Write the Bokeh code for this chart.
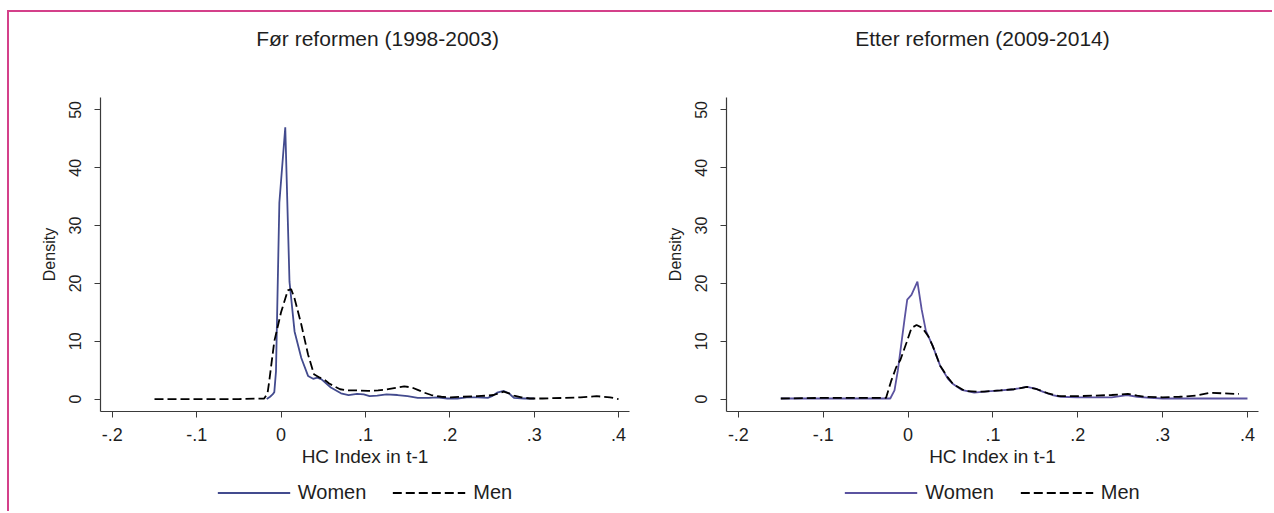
from bokeh.plotting import figure
from bokeh.layouts import row, column
from bokeh.models import Range1d, Legend, LegendItem, FixedTicker, CustomJSTickFormatter, Spacer
from bokeh.core.properties import value
from bokeh.embed import file_html
from bokeh.resources import INLINE

# ---------------- data ----------------
x_ticks = [-0.2, -0.1, 0.0, 0.1, 0.2, 0.3, 0.4]
x_tick_labels = ["-.2", "-.1", "0", ".1", ".2", ".3", ".4"]
y_ticks = [0, 10, 20, 30, 40, 50]
y_tick_labels = ["0", "10", "20", "30", "40", "50"]

titles = ["Før reformen (1998-2003)", "Etter reformen (2009-2014)"]
x_axis_title = "HC Index in t-1"
y_axis_title = "Density"
series_names = ["Women", "Men"]

before_women_x = [-0.017, -0.013, -0.010, -0.008, -0.006, -0.002, 0.005, 0.010, 0.016, 0.024,
                  0.032, 0.038, 0.043, 0.048, 0.059, 0.071, 0.080, 0.090, 0.098, 0.105,
                  0.114, 0.125, 0.138, 0.150, 0.162, 0.175, 0.185, 0.197, 0.209, 0.220,
                  0.233, 0.245, 0.250, 0.256, 0.264, 0.270, 0.276, 0.288, 0.300]
before_women_y = [0.0, 0.4, 0.8, 1.2, 4.8, 34.0, 47.0, 20.3, 11.7, 7.1,
                  4.0, 3.5, 3.7, 3.4, 2.0, 1.0, 0.7, 0.9, 0.8, 0.5,
                  0.6, 0.8, 0.7, 0.5, 0.2, 0.2, 0.3, 0.1, 0.1, 0.3,
                  0.3, 0.2, 0.5, 1.1, 1.4, 1.0, 0.2, 0.1, 0.1]

before_men_x = [-0.150, -0.100, -0.050, -0.020, -0.016, -0.014, -0.008, 0.000, 0.008, 0.012,
                0.016, 0.024, 0.032, 0.039, 0.046, 0.051, 0.057, 0.063, 0.070, 0.079,
                0.090, 0.103, 0.115, 0.122, 0.134, 0.146, 0.155, 0.162, 0.170, 0.178,
                0.190, 0.201, 0.215, 0.233, 0.245, 0.252, 0.258, 0.264, 0.270, 0.276,
                0.285, 0.295, 0.310, 0.335, 0.355, 0.374, 0.390, 0.400]
before_men_y = [0.0, 0.0, 0.0, 0.1, 1.0, 3.1, 10.0, 15.0, 18.8, 19.0,
                17.4, 12.9, 7.7, 4.3, 3.7, 3.4, 2.7, 2.2, 1.7, 1.5,
                1.5, 1.4, 1.5, 1.6, 1.9, 2.2, 2.0, 1.6, 1.1, 0.7,
                0.4, 0.3, 0.4, 0.5, 0.6, 0.7, 1.0, 1.3, 1.0, 0.6,
                0.3, 0.1, 0.1, 0.2, 0.3, 0.5, 0.3, 0.0]

after_women_x = [-0.150, -0.100, -0.050, -0.021, -0.016, -0.012, -0.004, -0.001, 0.004, 0.011,
                 0.016, 0.021, 0.029, 0.038, 0.047, 0.053, 0.063, 0.078, 0.090, 0.109,
                 0.125, 0.140, 0.150, 0.160, 0.170, 0.180, 0.200, 0.220, 0.240, 0.258,
                 0.270, 0.285, 0.300, 0.320, 0.350, 0.400]
after_women_y = [0.1, 0.1, 0.1, 0.1, 1.5, 5.0, 14.0, 17.2, 18.0, 20.3,
                 15.5, 11.8, 9.2, 5.7, 3.5, 2.6, 1.6, 1.1, 1.3, 1.5,
                 1.7, 2.1, 1.8, 1.2, 0.7, 0.4, 0.3, 0.3, 0.3, 0.7,
                 0.4, 0.2, 0.1, 0.1, 0.1, 0.1]

after_men_x = [-0.150, -0.100, -0.050, -0.026, -0.020, -0.014, -0.009, -0.002, 0.004, 0.010,
               0.017, 0.024, 0.029, 0.038, 0.047, 0.053, 0.067, 0.081, 0.090, 0.109,
               0.125, 0.140, 0.152, 0.165, 0.178, 0.200, 0.220, 0.240, 0.259, 0.270,
               0.278, 0.300, 0.320, 0.340, 0.356, 0.370, 0.385, 0.390]
after_men_y = [0.1, 0.2, 0.2, 0.2, 3.1, 5.5, 6.8, 9.7, 12.3, 12.8,
               12.3, 10.8, 9.2, 5.7, 3.7, 2.6, 1.4, 1.3, 1.3, 1.5,
               1.7, 2.1, 1.7, 1.0, 0.5, 0.5, 0.6, 0.7, 0.9, 0.6,
               0.4, 0.3, 0.4, 0.6, 1.1, 1.0, 0.9, 0.9]

FONT = "Liberation Sans"
TEXT = "#1e1e1e"
AXIS = "#3a3a3a"
MEN_DASH = "9 4"


def tick_formatter(tvals, tlabels):
    return CustomJSTickFormatter(args=dict(tvals=tvals, tlabels=tlabels), code="""
        for (let i = 0; i < tvals.length; i++) {
            if (Math.abs(tick - tvals[i]) < 1e-9) { return tlabels[i]; }
        }
        return '';
    """)


def bare_figure(width, height, x_range, y_range, mbl=0, mbr=0):
    f = figure(width=width, height=height, x_range=x_range, y_range=y_range,
               output_backend="svg", toolbar_location=None,
               x_axis_type=None, y_axis_type=None,
               min_border_left=mbl, min_border_right=mbr,
               min_border_top=0, min_border_bottom=0,
               background_fill_color="white", border_fill_color="white",
               outline_line_color=None)
    f.grid.visible = False
    return f


def make_panel(title, wx, wy, mx, my, wcolor, width, mbl, mbr, title_x):
    # ---- header with the panel title ----
    head = bare_figure(width, 59, Range1d(0, width), Range1d(0, 1))
    head.text(x=[title_x], y=[0.56], text=[title], text_align="center",
              text_baseline="middle", text_font=value(FONT),
              text_font_size=value("21px"), text_color=TEXT)

    # ---- main density plot ----
    p = figure(width=width, height=402,
               x_range=Range1d(-0.214, 0.413), y_range=Range1d(-2.15, 52.15),
               output_backend="svg", toolbar_location=None,
               min_border_left=mbl, min_border_right=mbr,
               min_border_top=26, min_border_bottom=62,
               background_fill_color="white", border_fill_color="white",
               outline_line_color=None)
    p.grid.visible = False

    xa = p.xaxis[0]
    xa.ticker = FixedTicker(ticks=x_ticks)
    xa.formatter = tick_formatter(x_ticks, x_tick_labels)
    xa.major_tick_out = 6
    xa.major_tick_in = 0
    xa.minor_tick_out = 0
    xa.minor_tick_in = 0
    xa.axis_line_color = AXIS
    xa.major_tick_line_color = AXIS
    xa.axis_line_width = 1.2
    xa.major_label_text_font = FONT
    xa.major_label_text_font_size = "18px"
    xa.major_label_text_color = TEXT
    xa.major_label_standoff = 10
    xa.axis_label = x_axis_title
    xa.axis_label_text_font = FONT
    xa.axis_label_text_font_size = "19px"
    xa.axis_label_text_font_style = "normal"
    xa.axis_label_text_color = TEXT
    xa.axis_label_standoff = 2

    ya = p.yaxis[0]
    ya.ticker = FixedTicker(ticks=y_ticks)
    ya.formatter = tick_formatter(y_ticks, y_tick_labels)
    ya.major_tick_out = 6
    ya.major_tick_in = 0
    ya.minor_tick_out = 0
    ya.minor_tick_in = 0
    ya.axis_line_color = AXIS
    ya.major_tick_line_color = AXIS
    ya.axis_line_width = 1.2
    ya.major_label_orientation = "vertical"
    ya.major_label_text_font = FONT
    ya.major_label_text_font_size = "16px"
    ya.major_label_text_color = TEXT
    ya.major_label_standoff = 13
    ya.axis_label = y_axis_title
    ya.axis_label_text_font = FONT
    ya.axis_label_text_font_size = "16px"
    ya.axis_label_text_font_style = "normal"
    ya.axis_label_text_color = TEXT
    ya.axis_label_standoff = 9

    p.line(wx, wy, line_color=wcolor, line_width=1.8)
    p.line(mx, my, line_color="black", line_width=1.8, line_dash=MEN_DASH)

    # ---- legend strip below (series drawn out of view, only keys show) ----
    leg = bare_figure(width, 38, Range1d(-0.214, 0.413), Range1d(-300, -299), mbl, mbr)
    lw = leg.line(wx, wy, line_color=wcolor, line_width=1.8)
    lm = leg.line(mx, my, line_color="black", line_width=1.8, line_dash=MEN_DASH)
    legend = Legend(items=[LegendItem(label=series_names[0], renderers=[lw]),
                           LegendItem(label=series_names[1], renderers=[lm])],
                    orientation="horizontal", location="center",
                    glyph_width=73, glyph_height=20, label_height=20,
                    label_standoff=8, spacing=26, padding=0, margin=0,
                    border_line_color=None, background_fill_alpha=0,
                    label_text_font=FONT, label_text_font_size="20px",
                    label_text_color=TEXT)
    leg.add_layout(legend)

    return column(head, p, leg)


panel1 = make_panel(titles[0], before_women_x, before_women_y, before_men_x, before_men_y,
                    "#434b8e", 651, 91, 31, 341)
panel2 = make_panel(titles[1], after_women_x, after_women_y, after_men_x, after_men_y,
                    "#5b53a0", 612, 66, 14, 294.5)

framed = row(panel1, panel2, styles={"border-top": "2px solid #d4408a",
                                     "border-left": "2px solid #d4408a"})
layout = column(Spacer(width=10, height=10), row(Spacer(width=7, height=10), framed))

open("out.html", "w").write(file_html(layout, INLINE))
